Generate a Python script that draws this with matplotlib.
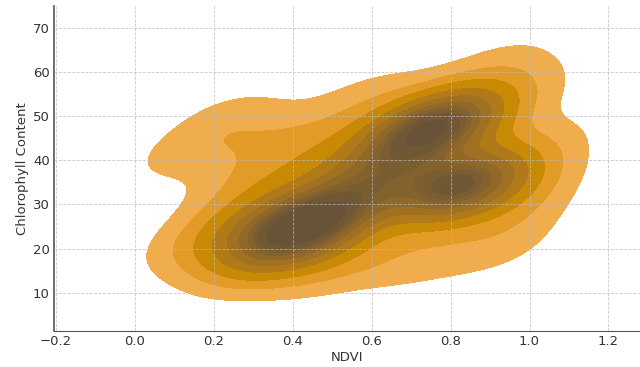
import matplotlib
matplotlib.use("Agg")
import matplotlib.pyplot as plt
import seaborn as sns
import pandas as pd

# estimated sample points (NDVI, chlorophyll)
ndvi = [0.35, 0.37, 0.38, 0.39, 0.40, 0.41, 0.42, 0.42, 0.43, 0.44, 0.45, 0.46, 0.47, 0.49, 0.40, 0.44,
        0.65, 0.68, 0.71, 0.73, 0.75, 0.76, 0.77, 0.78, 0.79, 0.80, 0.81, 0.80, 0.78, 0.74,
        0.79, 0.80, 0.81, 0.82, 0.82, 0.83, 0.84, 0.85, 0.83, 0.80, 0.84, 0.86,
        0.55, 0.60, 0.58, 0.62, 0.52, 0.66, 0.57, 0.63, 0.68,
        0.11, 0.24, 0.16, 0.21, 0.25, 0.27, 0.30, 0.48, 0.40, 0.60, 0.93,
        0.98, 1.03, 1.01, 0.97, 0.92, 0.72, 0.58, 0.32, 0.46, 0.30]
chlorophyll = [23, 26, 22, 25, 27, 24, 26, 23, 25, 28, 24, 26, 23, 25, 21, 29,
               44, 45, 46, 47, 46, 48, 50, 47, 49, 48, 50, 46, 51, 49,
               34, 32, 35, 33, 36, 34, 32, 35, 37, 36, 31, 34,
               32, 35, 30, 39, 36, 33, 38, 36, 40,
               41, 50, 21, 23, 17, 30, 45, 46, 40, 55, 62,
               56, 44, 36, 28, 20, 17, 18, 16, 15, 35]

band_colors = ["#f0ad4e", "#e19b26", "#c88a05", "#b07a19", "#a07023",
               "#916828", "#84622d", "#7a5d31", "#715835", "#685338"]

df = pd.DataFrame({"NDVI": ndvi, "Chlorophyll Content": chlorophyll})

fig = plt.figure(figsize=(6.4, 3.67), dpi=100)
ax = fig.add_axes([54 / 640, 36 / 367, 1 - 54 / 640, 325 / 367])

sns.kdeplot(data=df, x="NDVI", y="Chlorophyll Content", fill=True,
            levels=len(band_colors) + 1, cmap="Oranges", ax=ax)
cs = ax.collections[0]
cs.set_array(None)
cs.set_facecolor(band_colors)

ax.set_xlim(-0.205, 1.28)
ax.set_ylim(1.3, 75)
ax.grid(True, linestyle="--", color="#bbbbbb", linewidth=0.6, alpha=0.8)
ax.set_axisbelow(False)
for s in ["top", "right"]:
    ax.spines[s].set_visible(False)
ax.spines["left"].set_color("#555555")
ax.spines["bottom"].set_color("#555555")
ax.spines["left"].set_linewidth(1.2)
ax.tick_params(length=0, pad=3, labelsize=9.5, labelcolor="#333333")
ax.set_xlabel("NDVI", fontsize=9.5, color="#333333", labelpad=2)
ax.set_ylabel("Chlorophyll Content", fontsize=9.5, color="#333333", labelpad=3)

fig.savefig("out.png", dpi=100)
